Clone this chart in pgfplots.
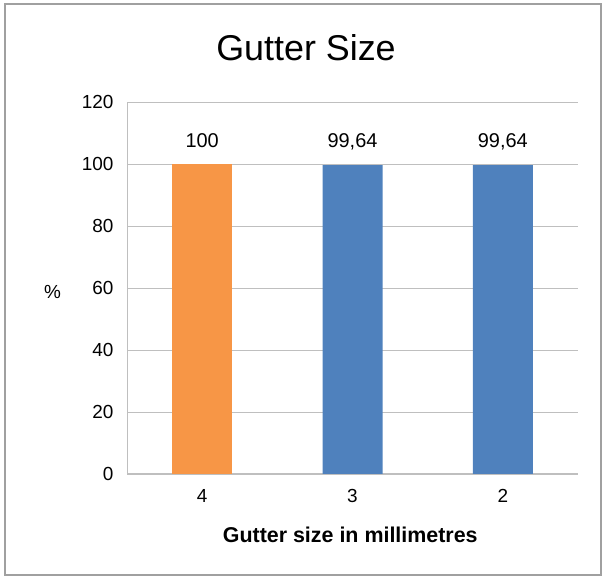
\documentclass[border=0pt]{standalone}
\usepackage{fontspec}
\setmainfont{Liberation Sans}
\usepackage{pgfplots}
\pgfplotsset{compat=1.18}
\definecolor{barorange}{HTML}{F79646}
\definecolor{barblue}{HTML}{4F81BD}
\definecolor{gridgray}{HTML}{BFBFBF}
\definecolor{framegray}{HTML}{A0A0A0}
\begin{document}
\begin{tikzpicture}[x=1bp,y=1bp]
\useasboundingbox (0,0) rectangle (603,577);
\draw[framegray, line width=1.2bp] (5,2) rectangle (601,573);
\node[font=\fontsize{36}{40}\selectfont] at (306,529) {Gutter Size};
\begin{axis}[
  scale only axis, width=451bp, height=372bp,
  at={(127bp,103bp)}, anchor=south west,
  ybar, bar width=60bp, bar shift=0pt,
  xmin=-0.5, xmax=2.5, ymin=0, ymax=120,
  ytick={0,20,...,120},
  xtick={0,1,2}, xticklabels={4,3,2},
  ymajorgrids, grid style={gridgray, line width=0.9bp},
  axis x line*=bottom, axis y line*=left,
  axis line style={gridgray, line width=1bp},
  major tick length=0pt,
  tick label style={font=\fontsize{19}{22}\selectfont},
  yticklabel style={xshift=-10bp},
  xticklabel style={yshift=-12bp},
  /pgf/number format/assume math mode=true,
  /pgf/number format/use comma,
  xlabel={\textbf{Gutter size in millimetres}},
  xlabel style={font=\fontsize{21.5}{25}\selectfont, at={(axis description cs:0.495,-0.164)}, anchor=center},
  ylabel={\%},
  ylabel style={font=\fontsize{19}{22}\selectfont, rotate=-90, at={(axis description cs:-0.165,0.49)}, anchor=center},
  nodes near coords,
  nodes near coords style={font=\fontsize{20}{24}\selectfont, anchor=center, yshift=23bp,
    /pgf/number format/.cd, fixed, precision=2, use comma},
]
\addplot[fill=barorange, draw=none] coordinates {(0,100)};
\addplot[fill=barblue, draw=none] coordinates {(1,99.64) (2,99.64)};
\end{axis}
\end{tikzpicture}
\end{document}
